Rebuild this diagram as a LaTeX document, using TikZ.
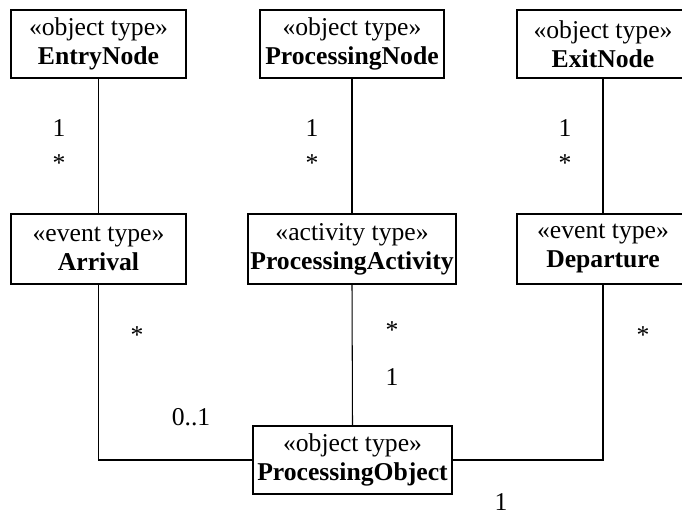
\documentclass[tikz,border=0pt]{standalone}
\usepackage{fontspec}
\setmainfont{Liberation Serif}
\usetikzlibrary{positioning}
\tikzset{
  umlbox/.style={draw=black,line width=1.1pt,inner sep=0pt,minimum height=1.37cm,
    minimum width=#1,align=center,font=\fontsize{14.6}{16.5}\selectfont},
  umlbox/.default=3.5cm,
  mult/.style={inner sep=0pt,font=\fontsize{14.6}{16}\selectfont},
  assoc/.style={draw=black,line width=0.6pt},
}

\begin{document}
\begin{tikzpicture}[x=0.02cm,y=-0.02cm]
  \useasboundingbox (0,0) rectangle (682,516);
  % object types
  \node[umlbox=3.5cm] (entry) at (98.5,44) {«object type»\\\textbf{EntryNode}};
  \node[umlbox=3.68cm] (procnode) at (352,44) {«object type»\\\textbf{ProcessingNode}};
  \node[umlbox=3.44cm] (exit) at (603,44) {«object type»\\\textbf{ExitNode}};
  % event and activity types
  \node[umlbox=3.5cm,minimum height=1.4cm] (arrival) at (98.5,249) {«event type»\\\textbf{Arrival}};
  \node[umlbox=4.16cm,minimum height=1.4cm] (activity) at (352,249) {«activity type»\\\textbf{ProcessingActivity}};
  \node[umlbox=3.44cm,minimum height=1.4cm] (departure) at (603,249) {«event type»\\\textbf{Departure}};
  \node[umlbox=3.98cm] (object) at (352.5,460) {«object type»\\\textbf{ProcessingObject}};

  \draw[assoc] (entry) -- (arrival);
  \draw[assoc] (procnode) -- (activity);
  \draw[assoc] (exit) -- (departure);
  \draw[assoc] (arrival.south) |- (object.west);
  \draw[assoc] (activity.south) -- (object.north);
  \draw[assoc] (departure.south) |- (object.east);

  % multiplicities
  \node[mult] (m1) at (59,128) {1};
  \node[mult] (m2) at (59,163) {*};
  \node[mult] (m3) at (312,128) {1};
  \node[mult] (m4) at (312,163) {*};
  \node[mult] (m5) at (565,128) {1};
  \node[mult] (m6) at (565,163) {*};
  \node[mult] (m7) at (137,335) {*};
  \node[mult] (m8) at (392,330) {*};
  \node[mult] (m9) at (392,377) {1};
  \node[mult] (m10) at (191,417) {0..1};
  \node[mult] (m11) at (643,335) {*};
  \node[mult] (m12) at (501,502) {1};
\end{tikzpicture}
\end{document}
